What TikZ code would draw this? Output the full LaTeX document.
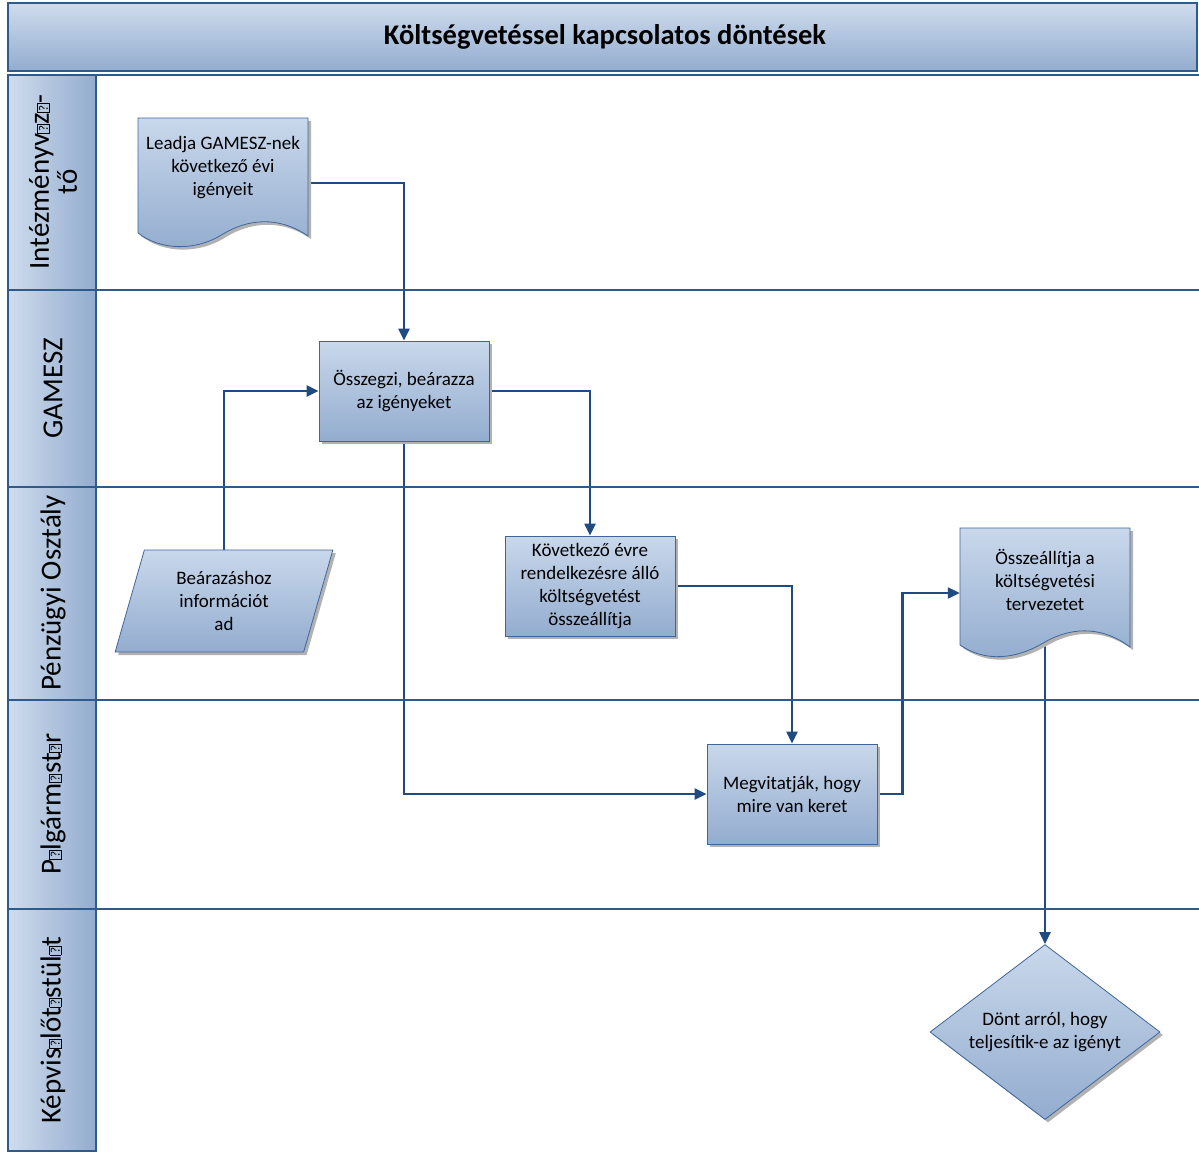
\documentclass[tikz,border=0pt]{standalone}
\usepackage{fontspec}
\setmainfont{Carlito}
\usetikzlibrary{shapes.geometric,shadows,arrows.meta,backgrounds}

\definecolor{laneline}{HTML}{2F5A8C}
\definecolor{flowline}{HTML}{1F4A82}
\definecolor{boxtop}{HTML}{C9D8EB}
\definecolor{boxbot}{HTML}{93ACCF}
\definecolor{boxline}{HTML}{3D679B}

% missing glyph as it is printed
\newcommand{\qbox}{{\fboxsep=1pt\fboxrule=0.7pt\raisebox{1pt}{\fbox{\fontsize{13}{13}\selectfont ?}}}}

\begin{document}
\begin{tikzpicture}[x=1pt, y=-1pt,
    shape shade/.style={draw=boxline, line width=0.8pt, top color=boxtop, bottom color=boxbot},
    taskbox/.style={
      rectangle, shape shade,
      minimum width=170, minimum height=100,
      align=center, font=\fontsize{19}{23}\selectfont,
      drop shadow={shadow xshift=3pt, shadow yshift=-3pt, fill=gray!60, opacity=1}},
    doctext/.style={
      rectangle, minimum width=170, minimum height=100,
      align=center, font=\fontsize{19}{23}\selectfont},
    lanelabel/.style={rotate=90, align=center, font=\fontsize{29}{28}\selectfont},
    lane/.style={draw=laneline, line width=1.4pt},
    flow/.style={draw=flowline, line width=2.2pt, -{Triangle[length=12pt,width=11pt]}}
  ]
      \useasboundingbox (0,0) rectangle (1199,1151);

      % header and label column
      \path[lane, top color=boxtop!90, bottom color=boxbot] (8,3) rectangle (1197,71);
      \path[lane, left color=boxtop!90, right color=boxbot] (8,75) rectangle (96,1151);
      \draw[lane] (8,75) -- (1199,75);
      \node[font=\fontsize{28.5}{30}\selectfont\bfseries] (title) at (605,37) {Költségvetéssel kapcsolatos döntések};

      \foreach \y in {290,487,700,909} {
        \draw[lane] (8,\y) -- (1199,\y);
      }

      \node[lanelabel] (intezmeny) at (53,182) {Intézményv\qbox z\qbox-\\tő};
      \node[lanelabel] (gamesz) at (53,388) {GAMESZ};
      \node[lanelabel] (penzugy) at (53,593) {Pénzügyi Osztály};
      \node[lanelabel] (polgar) at (53,804) {P\qbox lgárm\qbox st\qbox r};
      \node[lanelabel] (testulet) at (53,1030) {Képvis\qbox lőt\qbox stül\qbox t};

      % documents
      \fill[gray!60, shift={(3,3)}] (138,118) -- (308,118) -- (308,236)
        .. controls (285,220) and (255,215) .. (223,234)
        .. controls (195,252) and (160,250) .. (138,233) -- cycle;
      \path[shape shade] (138,118) -- (308,118) -- (308,236)
        .. controls (285,220) and (255,215) .. (223,234)
        .. controls (195,252) and (160,250) .. (138,233) -- cycle;
      \node[doctext] (leadja) at (223,168) {Leadja GAMESZ-nek\\következő évi\\igényeit};

      \fill[gray!60, shift={(3,3)}] (960,528) -- (1130,528) -- (1130,647)
        .. controls (1105,628) and (1075,625) .. (1045,642)
        .. controls (1015,660) and (985,662) .. (960,645) -- cycle;
      \path[shape shade] (960,528) -- (1130,528) -- (1130,647)
        .. controls (1105,628) and (1075,625) .. (1045,642)
        .. controls (1015,660) and (985,662) .. (960,645) -- cycle;
      \node[doctext] (osszeall) at (1045,580) {Összeállítja a\\költségvetési\\tervezetet};

      % steps
      \node[taskbox] (osszegzi) at (404,391) {Összegzi, beárazza\\az igényeket};
      \node[taskbox] (kovetkezo) at (590,586) {Következő évre\\rendelkezésre álló\\költségvetést\\összeállítja};
      \node[taskbox] (megvitat) at (792,794) {Megvitatják, hogy\\mire van keret};

      \node[
        trapezium, shape shade,
        trapezium left angle=73.6, trapezium right angle=106.4,
        trapezium stretches=true,
        minimum width=218, minimum height=102, inner sep=0pt,
        align=center, font=\fontsize{19}{23}\selectfont,
        drop shadow={shadow xshift=3pt, shadow yshift=-3pt, fill=gray!60, opacity=1}
        ] (beara) at (224,601) {Beárazáshoz\\információt\\ad};

      \node[
        diamond, shape shade, aspect=1.31,
        minimum width=230, minimum height=175, inner sep=0pt,
        align=center, font=\fontsize{19}{23}\selectfont,
        drop shadow={shadow xshift=3pt, shadow yshift=-3pt, fill=gray!60, opacity=1}
        ] (dont) at (1045,1032) {Dönt arról, hogy\\teljesítik-e az igényt};

      \begin{scope}[on background layer]
        \draw[flow] ([yshift=-15pt]leadja.east) -| (osszegzi.north);
        \draw[flow] (beara.north) |- (osszegzi.west);
        \draw[flow] (osszegzi.east) -| (kovetkezo.north);
        \draw[flow] (osszegzi.south) |- (megvitat.west);
        \draw[flow] (kovetkezo.east) -| (megvitat.north);
        \draw[flow] (megvitat.east) -- ++(25,0) |- ([yshift=-13pt]osszeall.west);
        \draw[flow] (osszeall.south) -- (dont.north);
      \end{scope}
    \end{tikzpicture}
\end{document}
